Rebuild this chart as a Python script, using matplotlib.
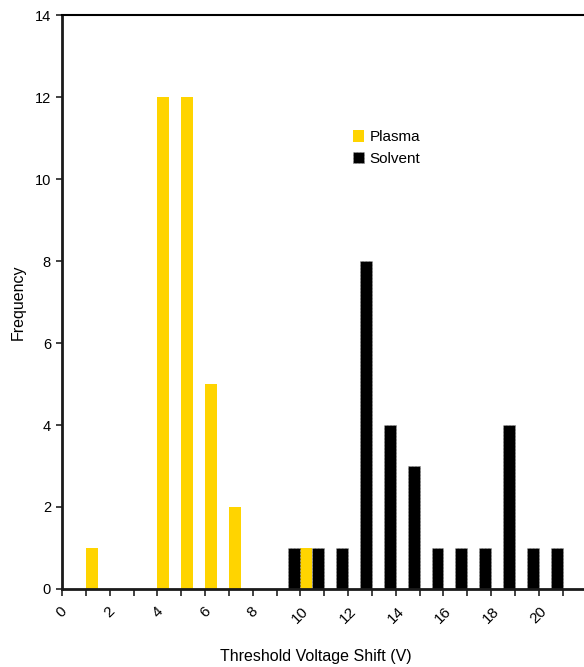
import matplotlib
matplotlib.use("Agg")
import matplotlib.pyplot as plt
import numpy as np

plt.rcParams['font.family'] = ['Liberation Sans', 'DejaVu Sans']

# Threshold voltage shift bins (V) and counts per treatment
shift_bins = list(range(0, 22))
plasma_counts = [0, 1, 0, 0, 12, 12, 5, 2, 0, 0, 1, 0,
                 0, 0, 0, 0, 0, 0, 0, 0, 0, 0]
solvent_counts = [0, 0, 0, 0, 0, 0, 0, 0, 0, 0, 1, 1,
                  1, 8, 4, 3, 1, 1, 1, 4, 1, 1]
y_ticks = list(range(0, 15, 2))

W, H = 584, 667
fig = plt.figure(figsize=(W / 100, H / 100), dpi=100)

left_px, right_px, top_px, bottom_px = 62, 586.5, 15, 589
ax = fig.add_axes([left_px / W, 1 - bottom_px / H,
                   (right_px - left_px) / W, (bottom_px - top_px) / H])

yellow = '#FFD400'
x = np.array(shift_bins, dtype=float)

ax.bar(x, plasma_counts, width=0.5, align='edge', color=yellow,
       linewidth=0, label='Plasma', zorder=1)
ax.bar(x, solvent_counts, width=-0.5, align='edge', color='black',
       edgecolor='#9a9a9a', linewidth=0.6, linestyle=(0, (2, 2)),
       label='Solvent', zorder=1)

ax.set_xlim(0, 22)
ax.set_ylim(0, 14)

ax.set_yticks(y_ticks)
ax.set_yticklabels([str(v) for v in y_ticks], fontsize=10.5)
ax.set_xticks(np.arange(0, 22))
ax.set_xticklabels([str(v) if v % 2 == 0 and v <= 20 else '' for v in range(22)],
                   fontsize=11, rotation=45, ha='center', va='top')

ax.tick_params(axis='x', direction='out', length=5, width=1.2, pad=6,
               color='#222222')
ax.tick_params(axis='y', direction='out', length=4, width=1.2, pad=4,
               color='#222222')

for side in ('left', 'bottom'):
    ax.spines[side].set_linewidth(2.0)
    ax.spines[side].set_color('#1a1a1a')
ax.spines['top'].set_linewidth(1.5)
ax.spines['top'].set_color('black')
ax.spines['right'].set_linewidth(1.5)
ax.spines['right'].set_color('black')

ax.set_ylabel('Frequency', fontsize=11.5, labelpad=6)
fig.text(316 / W, 1 - 656 / H, 'Threshold Voltage Shift (V)',
         fontsize=11.5, ha='center', va='center')

leg = ax.legend(loc='upper left', bbox_to_anchor=((353 - left_px) / (right_px - left_px),
                                                   (bottom_px - 130) / (bottom_px - top_px)),
                frameon=False, fontsize=11, handlelength=0.75, handleheight=0.8,
                handletextpad=0.35, labelspacing=0.5, borderpad=0, borderaxespad=0)

fig.savefig('out.png', dpi=100)
